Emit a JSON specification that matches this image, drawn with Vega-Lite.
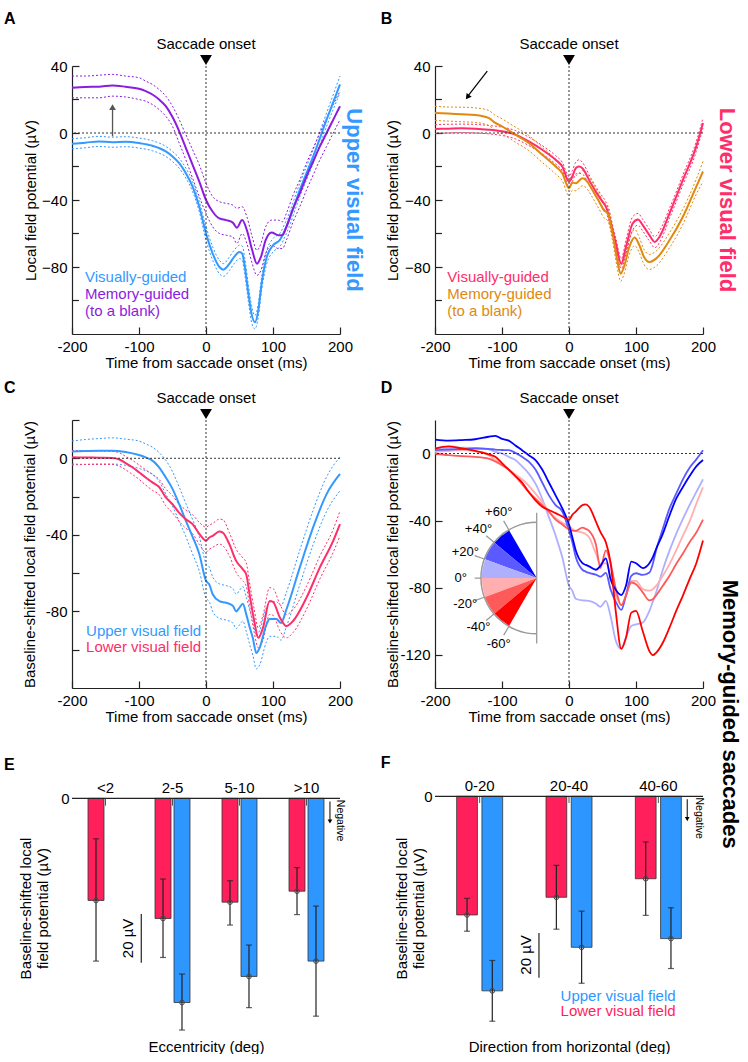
{
  "$schema": "https://vega.github.io/schema/vega-lite/v6.json",
  "padding": {"left": 4, "top": 11, "right": 4, "bottom": 0},
  "bounds": "flush",
  "columns": 2,
  "spacing": {"row": 86, "column": 95},
  "resolve": {"scale": {"color": "independent", "x": "independent", "y": "independent", "xOffset": "independent", "theta": "independent"}},
  "config": {
    "font": "Liberation Sans",
    "view": {"stroke": null},
    "axis": {"grid": false, "labelFontSize": 15, "titleFontSize": 15, "titleFontWeight": "normal", "labelColor": "#000", "titleColor": "#000", "domainColor": "#222", "tickColor": "#222", "domainWidth": 1.2, "tickWidth": 1.2, "labelFont": "Liberation Sans", "titleFont": "Liberation Sans"},
    "text": {"font": "Liberation Sans"}
  },
  "datasets": {
    "a": [
      {"t":-200,"g":"visual","m":-6.4,"lo":-9.4,"hi":-3.4},{"t":-180,"g":"visual","m":-5.8,"lo":-8.8,"hi":-2.8},{"t":-160,"g":"visual","m":-5,"lo":-8,"hi":-2},{"t":-140,"g":"visual","m":-5.5,"lo":-8.5,"hi":-2.5},{"t":-120,"g":"visual","m":-5.2,"lo":-8.2,"hi":-2.2},{"t":-100,"g":"visual","m":-6,"lo":-9,"hi":-3},{"t":-80,"g":"visual","m":-7.6,"lo":-10.6,"hi":-4.6},{"t":-60,"g":"visual","m":-11,"lo":-14,"hi":-8},{"t":-50,"g":"visual","m":-14,"lo":-17,"hi":-11},{"t":-40,"g":"visual","m":-18,"lo":-21,"hi":-15},{"t":-30,"g":"visual","m":-24,"lo":-27,"hi":-21},{"t":-20,"g":"visual","m":-32,"lo":-35,"hi":-29},{"t":-10,"g":"visual","m":-44,"lo":-47,"hi":-41},{"t":0,"g":"visual","m":-60,"lo":-64,"hi":-56},{"t":10,"g":"visual","m":-72,"lo":-76,"hi":-68},{"t":20,"g":"visual","m":-80,"lo":-84,"hi":-76},{"t":26,"g":"visual","m":-81.6,"lo":-85.6,"hi":-78},{"t":35,"g":"visual","m":-78,"lo":-82,"hi":-74},{"t":42,"g":"visual","m":-74,"lo":-78,"hi":-70},{"t":50,"g":"visual","m":-71,"lo":-75,"hi":-67},{"t":54,"g":"visual","m":-72,"lo":-76,"hi":-67.5},{"t":58,"g":"visual","m":-80,"lo":-85,"hi":-75},{"t":63,"g":"visual","m":-95,"lo":-100,"hi":-90},{"t":68,"g":"visual","m":-108,"lo":-113,"hi":-103},{"t":73,"g":"visual","m":-113,"lo":-117,"hi":-109},{"t":78,"g":"visual","m":-106,"lo":-110,"hi":-102},{"t":83,"g":"visual","m":-90,"lo":-94,"hi":-86},{"t":90,"g":"visual","m":-75,"lo":-79,"hi":-71},{"t":100,"g":"visual","m":-67,"lo":-71,"hi":-63},{"t":110,"g":"visual","m":-64,"lo":-68,"hi":-60},{"t":120,"g":"visual","m":-56,"lo":-60,"hi":-52},{"t":140,"g":"visual","m":-34,"lo":-38,"hi":-30},{"t":160,"g":"visual","m":-14,"lo":-18,"hi":-10},{"t":180,"g":"visual","m":8,"lo":4,"hi":12},{"t":200,"g":"visual","m":29,"lo":24,"hi":34},
      {"t":-200,"g":"memory","m":27,"lo":21,"hi":34},{"t":-180,"g":"memory","m":27.5,"lo":21,"hi":34},{"t":-160,"g":"memory","m":27.6,"lo":21,"hi":34.5},{"t":-140,"g":"memory","m":28.4,"lo":22,"hi":35},{"t":-120,"g":"memory","m":27.6,"lo":21.5,"hi":34},{"t":-100,"g":"memory","m":26.4,"lo":20,"hi":33},{"t":-90,"g":"memory","m":25,"lo":19,"hi":31},{"t":-80,"g":"memory","m":23,"lo":17,"hi":29},{"t":-70,"g":"memory","m":20,"lo":14,"hi":26},{"t":-60,"g":"memory","m":16,"lo":10,"hi":22},{"t":-50,"g":"memory","m":9.5,"lo":4,"hi":16},{"t":-40,"g":"memory","m":1,"lo":-6,"hi":8},{"t":-30,"g":"memory","m":-9,"lo":-16,"hi":-1},{"t":-20,"g":"memory","m":-19,"lo":-27,"hi":-10},{"t":-10,"g":"memory","m":-29,"lo":-38,"hi":-19},{"t":0,"g":"memory","m":-40,"lo":-48,"hi":-30},{"t":10,"g":"memory","m":-47,"lo":-56,"hi":-38},{"t":20,"g":"memory","m":-51,"lo":-60,"hi":-41},{"t":30,"g":"memory","m":-52,"lo":-61,"hi":-42},{"t":40,"g":"memory","m":-53.5,"lo":-62,"hi":-43},{"t":46,"g":"memory","m":-56.6,"lo":-66,"hi":-45},{"t":54,"g":"memory","m":-52,"lo":-60,"hi":-44},{"t":61,"g":"memory","m":-58,"lo":-66,"hi":-50},{"t":69,"g":"memory","m":-70,"lo":-78,"hi":-62},{"t":76,"g":"memory","m":-78,"lo":-85,"hi":-70},{"t":82,"g":"memory","m":-74,"lo":-82,"hi":-66},{"t":89,"g":"memory","m":-64,"lo":-72,"hi":-56},{"t":98,"g":"memory","m":-59.4,"lo":-67,"hi":-52},{"t":108,"g":"memory","m":-61,"lo":-69,"hi":-52},{"t":114,"g":"memory","m":-61,"lo":-69,"hi":-53},{"t":120,"g":"memory","m":-56,"lo":-64,"hi":-48},{"t":130,"g":"memory","m":-45,"lo":-53,"hi":-37},{"t":140,"g":"memory","m":-36,"lo":-44,"hi":-28},{"t":150,"g":"memory","m":-26,"lo":-34,"hi":-18},{"t":160,"g":"memory","m":-17,"lo":-25,"hi":-9},{"t":170,"g":"memory","m":-8,"lo":-16,"hi":0},{"t":180,"g":"memory","m":0,"lo":-8,"hi":9},{"t":190,"g":"memory","m":8,"lo":0,"hi":17},{"t":200,"g":"memory","m":16,"lo":8,"hi":25}
    ],
    "b": [
      {"t":-200,"g":"visual","m":2.4,"lo":-0.2,"hi":5},{"t":-180,"g":"visual","m":2.6,"lo":0,"hi":5.2},{"t":-160,"g":"visual","m":2.8,"lo":0.2,"hi":5.3},{"t":-140,"g":"visual","m":2.6,"lo":0,"hi":5.1},{"t":-120,"g":"visual","m":2,"lo":-0.5,"hi":4.5},{"t":-100,"g":"visual","m":1,"lo":-1.5,"hi":3.5},{"t":-80,"g":"visual","m":-1,"lo":-3.5,"hi":1.5},{"t":-60,"g":"visual","m":-5,"lo":-7.5,"hi":-2.5},{"t":-40,"g":"visual","m":-10,"lo":-12.5,"hi":-7.5},{"t":-20,"g":"visual","m":-16,"lo":-18.5,"hi":-13.5},{"t":-10,"g":"visual","m":-20,"lo":-22.5,"hi":-17.5},{"t":0,"g":"visual","m":-29,"lo":-31.5,"hi":-26},{"t":5,"g":"visual","m":-26,"lo":-29,"hi":-22.5},{"t":10,"g":"visual","m":-21,"lo":-24.5,"hi":-17.5},{"t":15,"g":"visual","m":-20,"lo":-24,"hi":-16},{"t":20,"g":"visual","m":-21,"lo":-24.5,"hi":-17.5},{"t":30,"g":"visual","m":-28,"lo":-31,"hi":-25},{"t":40,"g":"visual","m":-35,"lo":-38,"hi":-32},{"t":50,"g":"visual","m":-41,"lo":-44,"hi":-38},{"t":55,"g":"visual","m":-44,"lo":-47,"hi":-41},{"t":60,"g":"visual","m":-50,"lo":-53,"hi":-47},{"t":65,"g":"visual","m":-58,"lo":-61,"hi":-55},{"t":70,"g":"visual","m":-66,"lo":-69,"hi":-63},{"t":78,"g":"visual","m":-78,"lo":-81,"hi":-75},{"t":85,"g":"visual","m":-68,"lo":-72,"hi":-64},{"t":95,"g":"visual","m":-54,"lo":-58,"hi":-50},{"t":103,"g":"visual","m":-51.6,"lo":-55,"hi":-48},{"t":110,"g":"visual","m":-55,"lo":-58.5,"hi":-51.5},{"t":120,"g":"visual","m":-61,"lo":-64.5,"hi":-57.5},{"t":128,"g":"visual","m":-65,"lo":-68.5,"hi":-62},{"t":135,"g":"visual","m":-62,"lo":-65.5,"hi":-58.5},{"t":150,"g":"visual","m":-48,"lo":-51,"hi":-45},{"t":170,"g":"visual","m":-28,"lo":-31,"hi":-25},{"t":190,"g":"visual","m":-8,"lo":-11,"hi":-5},{"t":200,"g":"visual","m":6,"lo":3,"hi":9},
      {"t":-200,"g":"memory","m":12,"lo":7.5,"hi":16},{"t":-180,"g":"memory","m":11.6,"lo":7.1,"hi":15.5},{"t":-160,"g":"memory","m":11.2,"lo":6.7,"hi":15.4},{"t":-140,"g":"memory","m":10.8,"lo":6.3,"hi":15},{"t":-120,"g":"memory","m":9,"lo":4.5,"hi":13.5},{"t":-110,"g":"memory","m":6,"lo":1.5,"hi":10.5},{"t":-100,"g":"memory","m":4,"lo":-0.5,"hi":8.5},{"t":-90,"g":"memory","m":1.6,"lo":-2.9,"hi":6},{"t":-80,"g":"memory","m":-1,"lo":-5.5,"hi":3.5},{"t":-60,"g":"memory","m":-6,"lo":-10.5,"hi":-1.5},{"t":-40,"g":"memory","m":-13,"lo":-17.5,"hi":-8.5},{"t":-20,"g":"memory","m":-20,"lo":-24.5,"hi":-15.5},{"t":-10,"g":"memory","m":-24,"lo":-28.5,"hi":-19.5},{"t":0,"g":"memory","m":-33,"lo":-37.5,"hi":-28},{"t":5,"g":"memory","m":-29.6,"lo":-34.2,"hi":-25},{"t":10,"g":"memory","m":-30,"lo":-34.5,"hi":-25.5},{"t":20,"g":"memory","m":-27,"lo":-31.5,"hi":-22.5},{"t":25,"g":"memory","m":-28,"lo":-32.5,"hi":-23.5},{"t":35,"g":"memory","m":-34,"lo":-38.5,"hi":-29.5},{"t":45,"g":"memory","m":-41,"lo":-45.5,"hi":-36.5},{"t":52,"g":"memory","m":-46,"lo":-50.5,"hi":-41.5},{"t":58,"g":"memory","m":-48,"lo":-52.5,"hi":-43.5},{"t":65,"g":"memory","m":-60,"lo":-64.5,"hi":-55.5},{"t":72,"g":"memory","m":-76,"lo":-80.5,"hi":-71.5},{"t":77,"g":"memory","m":-84,"lo":-88.5,"hi":-79.5},{"t":82,"g":"memory","m":-80,"lo":-84.5,"hi":-75.5},{"t":90,"g":"memory","m":-68,"lo":-72.5,"hi":-63.5},{"t":98,"g":"memory","m":-62.4,"lo":-67.3,"hi":-57.5},{"t":105,"g":"memory","m":-67,"lo":-71.5,"hi":-62.5},{"t":112,"g":"memory","m":-74,"lo":-78.5,"hi":-69.5},{"t":120,"g":"memory","m":-77,"lo":-81.5,"hi":-72.5},{"t":130,"g":"memory","m":-75,"lo":-79.5,"hi":-70.5},{"t":150,"g":"memory","m":-64,"lo":-68.5,"hi":-59.5},{"t":170,"g":"memory","m":-50,"lo":-54.5,"hi":-45.5},{"t":190,"g":"memory","m":-32,"lo":-36.5,"hi":-27.5},{"t":200,"g":"memory","m":-23,"lo":-29,"hi":-17}
    ],
    "c": [
      {"t":-200,"g":"upper","m":3.5,"lo":-3.5,"hi":9},{"t":-180,"g":"upper","m":3.8,"lo":-3.2,"hi":9.8},{"t":-160,"g":"upper","m":4,"lo":-3,"hi":10.3},{"t":-140,"g":"upper","m":4,"lo":-3,"hi":10.7},{"t":-120,"g":"upper","m":3.3,"lo":-3.7,"hi":10},{"t":-100,"g":"upper","m":1.7,"lo":-5.3,"hi":9},{"t":-90,"g":"upper","m":0.5,"lo":-6.5,"hi":7.5},{"t":-80,"g":"upper","m":-1.2,"lo":-8.2,"hi":5.8},{"t":-70,"g":"upper","m":-4.7,"lo":-12,"hi":3},{"t":-60,"g":"upper","m":-10,"lo":-18.7,"hi":-1},{"t":-50,"g":"upper","m":-16,"lo":-25,"hi":-7},{"t":-40,"g":"upper","m":-24,"lo":-33,"hi":-15},{"t":-30,"g":"upper","m":-32.7,"lo":-41,"hi":-23.7},{"t":-20,"g":"upper","m":-41,"lo":-50,"hi":-32},{"t":-10,"g":"upper","m":-50,"lo":-59,"hi":-41},{"t":0,"g":"upper","m":-64,"lo":-73,"hi":-55},{"t":5,"g":"upper","m":-66,"lo":-75,"hi":-57},{"t":10,"g":"upper","m":-71,"lo":-80,"hi":-62},{"t":20,"g":"upper","m":-74.6,"lo":-83.6,"hi":-65.6},{"t":30,"g":"upper","m":-75.5,"lo":-84.5,"hi":-66.5},{"t":40,"g":"upper","m":-77,"lo":-86,"hi":-68},{"t":45,"g":"upper","m":-80,"lo":-89,"hi":-71},{"t":50,"g":"upper","m":-78,"lo":-87,"hi":-69},{"t":55,"g":"upper","m":-76,"lo":-85,"hi":-67},{"t":60,"g":"upper","m":-81.4,"lo":-90.4,"hi":-72.4},{"t":65,"g":"upper","m":-88,"lo":-97,"hi":-79},{"t":70,"g":"upper","m":-94,"lo":-103,"hi":-85},{"t":75,"g":"upper","m":-101.7,"lo":-110,"hi":-92.7},{"t":80,"g":"upper","m":-99,"lo":-108,"hi":-90},{"t":90,"g":"upper","m":-87,"lo":-96,"hi":-78},{"t":95,"g":"upper","m":-84,"lo":-93,"hi":-75},{"t":105,"g":"upper","m":-84,"lo":-93,"hi":-75},{"t":112,"g":"upper","m":-86,"lo":-95,"hi":-77},{"t":120,"g":"upper","m":-79,"lo":-88,"hi":-70},{"t":140,"g":"upper","m":-57,"lo":-66,"hi":-48},{"t":160,"g":"upper","m":-36,"lo":-45,"hi":-27},{"t":180,"g":"upper","m":-18.7,"lo":-27.7,"hi":-9.7},{"t":200,"g":"upper","m":-8.2,"lo":-17,"hi":0.8},
      {"t":-200,"g":"lower","m":0.5,"lo":-3,"hi":4},{"t":-180,"g":"lower","m":0.4,"lo":-3.2,"hi":4},{"t":-160,"g":"lower","m":0.3,"lo":-3.2,"hi":3.8},{"t":-140,"g":"lower","m":0.2,"lo":-3.2,"hi":3.6},{"t":-130,"g":"lower","m":-0.5,"lo":-4,"hi":3},{"t":-120,"g":"lower","m":-2.5,"lo":-6,"hi":1},{"t":-110,"g":"lower","m":-4.7,"lo":-8.4,"hi":-1},{"t":-100,"g":"lower","m":-7.3,"lo":-11,"hi":-3.5},{"t":-90,"g":"lower","m":-10,"lo":-14,"hi":-6},{"t":-80,"g":"lower","m":-12.6,"lo":-16.7,"hi":-8.5},{"t":-70,"g":"lower","m":-15,"lo":-19,"hi":-11},{"t":-60,"g":"lower","m":-20.4,"lo":-24.8,"hi":-16},{"t":-50,"g":"lower","m":-24,"lo":-28.5,"hi":-19.5},{"t":-40,"g":"lower","m":-28.5,"lo":-33,"hi":-24},{"t":-30,"g":"lower","m":-31.8,"lo":-36.6,"hi":-27},{"t":-20,"g":"lower","m":-34.4,"lo":-39.3,"hi":-29.5},{"t":-10,"g":"lower","m":-39.5,"lo":-45,"hi":-33.5},{"t":0,"g":"lower","m":-43,"lo":-49,"hi":-36},{"t":5,"g":"lower","m":-41.4,"lo":-47.5,"hi":-35},{"t":10,"g":"lower","m":-40.5,"lo":-46.5,"hi":-34},{"t":20,"g":"lower","m":-38.3,"lo":-44.8,"hi":-31.8},{"t":25,"g":"lower","m":-38.8,"lo":-45.6,"hi":-32},{"t":35,"g":"lower","m":-45,"lo":-51,"hi":-39},{"t":45,"g":"lower","m":-53.6,"lo":-59.7,"hi":-47.5},{"t":55,"g":"lower","m":-58,"lo":-64,"hi":-52},{"t":60,"g":"lower","m":-60.6,"lo":-66.7,"hi":-54.5},{"t":65,"g":"lower","m":-71,"lo":-77,"hi":-65},{"t":72,"g":"lower","m":-85,"lo":-91,"hi":-79},{"t":78,"g":"lower","m":-93.8,"lo":-99,"hi":-88.6},{"t":85,"g":"lower","m":-88.6,"lo":-95,"hi":-82},{"t":95,"g":"lower","m":-74.6,"lo":-81.6,"hi":-67.6},{"t":100,"g":"lower","m":-75,"lo":-82,"hi":-68},{"t":110,"g":"lower","m":-83,"lo":-90,"hi":-76},{"t":120,"g":"lower","m":-87.7,"lo":-93.8,"hi":-81.6},{"t":130,"g":"lower","m":-85,"lo":-91,"hi":-79},{"t":150,"g":"lower","m":-72.8,"lo":-78.8,"hi":-66.8},{"t":170,"g":"lower","m":-57,"lo":-63,"hi":-51},{"t":190,"g":"lower","m":-43,"lo":-49,"hi":-37},{"t":200,"g":"lower","m":-34.4,"lo":-40.5,"hi":-27.4}
    ],
    "d": [
      {"t":-200,"s":"U20","v":2.9},{"t":-180,"s":"U20","v":3.2},{"t":-160,"s":"U20","v":3.5},{"t":-140,"s":"U20","v":3.3},{"t":-120,"s":"U20","v":2.5},{"t":-110,"s":"U20","v":1},{"t":-100,"s":"U20","v":0},{"t":-90,"s":"U20","v":-2},{"t":-80,"s":"U20","v":-3.9},{"t":-70,"s":"U20","v":-7.7},{"t":-60,"s":"U20","v":-12},{"t":-50,"s":"U20","v":-18},{"t":-40,"s":"U20","v":-27},{"t":-30,"s":"U20","v":-38},{"t":-20,"s":"U20","v":-49},{"t":-10,"s":"U20","v":-62},{"t":0,"s":"U20","v":-79},{"t":5,"s":"U20","v":-82},{"t":10,"s":"U20","v":-86.7},{"t":20,"s":"U20","v":-87.7},{"t":25,"s":"U20","v":-87.8},{"t":30,"s":"U20","v":-88},{"t":40,"s":"U20","v":-89.6},{"t":47,"s":"U20","v":-91.5},{"t":55,"s":"U20","v":-88},{"t":62,"s":"U20","v":-97},{"t":70,"s":"U20","v":-112},{"t":78,"s":"U20","v":-116.6},{"t":85,"s":"U20","v":-110},{"t":93,"s":"U20","v":-103},{"t":100,"s":"U20","v":-102},{"t":110,"s":"U20","v":-101},{"t":120,"s":"U20","v":-94},{"t":125,"s":"U20","v":-88.6},{"t":130,"s":"U20","v":-83},{"t":140,"s":"U20","v":-69.4},{"t":150,"s":"U20","v":-58},{"t":160,"s":"U20","v":-48},{"t":170,"s":"U20","v":-39},{"t":180,"s":"U20","v":-30.8},{"t":190,"s":"U20","v":-23},{"t":200,"s":"U20","v":-15.4},
      {"t":-200,"s":"L20","v":1},{"t":-180,"s":"L20","v":1.5},{"t":-160,"s":"L20","v":2},{"t":-140,"s":"L20","v":1.5},{"t":-120,"s":"L20","v":-1},{"t":-110,"s":"L20","v":-3.9},{"t":-100,"s":"L20","v":-6.5},{"t":-90,"s":"L20","v":-9.6},{"t":-80,"s":"L20","v":-12.5},{"t":-70,"s":"L20","v":-15.4},{"t":-60,"s":"L20","v":-19.3},{"t":-50,"s":"L20","v":-24},{"t":-40,"s":"L20","v":-28.9},{"t":-30,"s":"L20","v":-34.7},{"t":-20,"s":"L20","v":-38.5},{"t":-10,"s":"L20","v":-41.4},{"t":0,"s":"L20","v":-43.4},{"t":5,"s":"L20","v":-45},{"t":10,"s":"L20","v":-46.2},{"t":20,"s":"L20","v":-47.2},{"t":25,"s":"L20","v":-48},{"t":30,"s":"L20","v":-50},{"t":40,"s":"L20","v":-59.7},{"t":47,"s":"L20","v":-66},{"t":55,"s":"L20","v":-65.5},{"t":62,"s":"L20","v":-73},{"t":70,"s":"L20","v":-84.8},{"t":78,"s":"L20","v":-90.6},{"t":85,"s":"L20","v":-84.8},{"t":93,"s":"L20","v":-76},{"t":100,"s":"L20","v":-76},{"t":110,"s":"L20","v":-81},{"t":120,"s":"L20","v":-81.9},{"t":125,"s":"L20","v":-81},{"t":130,"s":"L20","v":-79},{"t":140,"s":"L20","v":-73},{"t":150,"s":"L20","v":-66},{"t":160,"s":"L20","v":-57.8},{"t":170,"s":"L20","v":-49},{"t":180,"s":"L20","v":-40.5},{"t":190,"s":"L20","v":-30},{"t":200,"s":"L20","v":-20.2},
      {"t":-200,"s":"U40","v":2},{"t":-180,"s":"U40","v":2.3},{"t":-160,"s":"U40","v":2.6},{"t":-140,"s":"U40","v":3},{"t":-120,"s":"U40","v":2.8},{"t":-110,"s":"U40","v":2.3},{"t":-100,"s":"U40","v":2.1},{"t":-90,"s":"U40","v":2},{"t":-80,"s":"U40","v":0.4},{"t":-70,"s":"U40","v":-2},{"t":-60,"s":"U40","v":-4.8},{"t":-50,"s":"U40","v":-9.6},{"t":-40,"s":"U40","v":-17.3},{"t":-30,"s":"U40","v":-25},{"t":-20,"s":"U40","v":-30.8},{"t":-10,"s":"U40","v":-34.7},{"t":0,"s":"U40","v":-46},{"t":5,"s":"U40","v":-53},{"t":10,"s":"U40","v":-61.7},{"t":20,"s":"U40","v":-69.4},{"t":25,"s":"U40","v":-70.5},{"t":30,"s":"U40","v":-71.3},{"t":40,"s":"U40","v":-72.3},{"t":47,"s":"U40","v":-73.5},{"t":55,"s":"U40","v":-71.3},{"t":62,"s":"U40","v":-81},{"t":70,"s":"U40","v":-88.7},{"t":78,"s":"U40","v":-93.4},{"t":85,"s":"U40","v":-84.8},{"t":93,"s":"U40","v":-73},{"t":100,"s":"U40","v":-71.5},{"t":110,"s":"U40","v":-72.5},{"t":120,"s":"U40","v":-71},{"t":125,"s":"U40","v":-66},{"t":130,"s":"U40","v":-57.8},{"t":140,"s":"U40","v":-45},{"t":150,"s":"U40","v":-32.8},{"t":160,"s":"U40","v":-24},{"t":170,"s":"U40","v":-15.4},{"t":180,"s":"U40","v":-8.5},{"t":190,"s":"U40","v":-3.5},{"t":200,"s":"U40","v":2},
      {"t":-200,"s":"L40","v":0},{"t":-180,"s":"L40","v":-1},{"t":-160,"s":"L40","v":-1.6},{"t":-140,"s":"L40","v":-2},{"t":-120,"s":"L40","v":-3},{"t":-110,"s":"L40","v":-4.8},{"t":-100,"s":"L40","v":-7},{"t":-90,"s":"L40","v":-9.6},{"t":-80,"s":"L40","v":-13.5},{"t":-70,"s":"L40","v":-18.3},{"t":-60,"s":"L40","v":-23},{"t":-50,"s":"L40","v":-27},{"t":-40,"s":"L40","v":-30.8},{"t":-30,"s":"L40","v":-34.7},{"t":-20,"s":"L40","v":-39.5},{"t":-10,"s":"L40","v":-42.4},{"t":0,"s":"L40","v":-45.3},{"t":5,"s":"L40","v":-46},{"t":10,"s":"L40","v":-46.2},{"t":20,"s":"L40","v":-44.3},{"t":25,"s":"L40","v":-45},{"t":30,"s":"L40","v":-46.2},{"t":40,"s":"L40","v":-54},{"t":47,"s":"L40","v":-68.4},{"t":55,"s":"L40","v":-57.8},{"t":62,"s":"L40","v":-65.5},{"t":70,"s":"L40","v":-81},{"t":78,"s":"L40","v":-90.6},{"t":85,"s":"L40","v":-84.8},{"t":93,"s":"L40","v":-77},{"t":100,"s":"L40","v":-78},{"t":110,"s":"L40","v":-82.9},{"t":120,"s":"L40","v":-87.7},{"t":125,"s":"L40","v":-87},{"t":130,"s":"L40","v":-84.8},{"t":140,"s":"L40","v":-79},{"t":150,"s":"L40","v":-73},{"t":160,"s":"L40","v":-66},{"t":170,"s":"L40","v":-59.7},{"t":180,"s":"L40","v":-53},{"t":190,"s":"L40","v":-47.2},{"t":200,"s":"L40","v":-39.5},
      {"t":-200,"s":"U60","v":8.3},{"t":-180,"s":"U60","v":7.7},{"t":-160,"s":"U60","v":8},{"t":-140,"s":"U60","v":8.5},{"t":-120,"s":"U60","v":10},{"t":-110,"s":"U60","v":10.5},{"t":-100,"s":"U60","v":8.7},{"t":-90,"s":"U60","v":7.7},{"t":-80,"s":"U60","v":4.8},{"t":-70,"s":"U60","v":2},{"t":-60,"s":"U60","v":-1},{"t":-50,"s":"U60","v":-3.9},{"t":-40,"s":"U60","v":-9.6},{"t":-30,"s":"U60","v":-17.3},{"t":-20,"s":"U60","v":-25},{"t":-10,"s":"U60","v":-32.8},{"t":0,"s":"U60","v":-42.4},{"t":5,"s":"U60","v":-50},{"t":10,"s":"U60","v":-57.8},{"t":20,"s":"U60","v":-65.5},{"t":25,"s":"U60","v":-66.5},{"t":30,"s":"U60","v":-67.4},{"t":40,"s":"U60","v":-69.4},{"t":47,"s":"U60","v":-67},{"t":55,"s":"U60","v":-62.6},{"t":62,"s":"U60","v":-75},{"t":70,"s":"U60","v":-81.5},{"t":78,"s":"U60","v":-84.5},{"t":85,"s":"U60","v":-79},{"t":93,"s":"U60","v":-64.5},{"t":100,"s":"U60","v":-65.5},{"t":110,"s":"U60","v":-68.4},{"t":120,"s":"U60","v":-65.5},{"t":125,"s":"U60","v":-62},{"t":130,"s":"U60","v":-57},{"t":140,"s":"U60","v":-48},{"t":150,"s":"U60","v":-37},{"t":160,"s":"U60","v":-27},{"t":170,"s":"U60","v":-20},{"t":180,"s":"U60","v":-13.5},{"t":190,"s":"U60","v":-7.7},{"t":200,"s":"U60","v":-3.9},
      {"t":-200,"s":"L60","v":2.9},{"t":-180,"s":"L60","v":4.2},{"t":-160,"s":"L60","v":3},{"t":-140,"s":"L60","v":1.5},{"t":-120,"s":"L60","v":-0.5},{"t":-110,"s":"L60","v":-2},{"t":-100,"s":"L60","v":-5.8},{"t":-90,"s":"L60","v":-9.6},{"t":-80,"s":"L60","v":-13.5},{"t":-70,"s":"L60","v":-17.3},{"t":-60,"s":"L60","v":-23},{"t":-50,"s":"L60","v":-28},{"t":-40,"s":"L60","v":-31.8},{"t":-30,"s":"L60","v":-33.7},{"t":-20,"s":"L60","v":-35.6},{"t":-10,"s":"L60","v":-37.6},{"t":0,"s":"L60","v":-39.5},{"t":5,"s":"L60","v":-36.6},{"t":10,"s":"L60","v":-34.7},{"t":20,"s":"L60","v":-30.8},{"t":25,"s":"L60","v":-30.4},{"t":30,"s":"L60","v":-31.8},{"t":40,"s":"L60","v":-40.5},{"t":47,"s":"L60","v":-47},{"t":55,"s":"L60","v":-53},{"t":62,"s":"L60","v":-65},{"t":70,"s":"L60","v":-95},{"t":78,"s":"L60","v":-116.6},{"t":85,"s":"L60","v":-110},{"t":93,"s":"L60","v":-95},{"t":100,"s":"L60","v":-94},{"t":110,"s":"L60","v":-106},{"t":120,"s":"L60","v":-118},{"t":125,"s":"L60","v":-120.4},{"t":130,"s":"L60","v":-119},{"t":140,"s":"L60","v":-113},{"t":150,"s":"L60","v":-104},{"t":160,"s":"L60","v":-94},{"t":170,"s":"L60","v":-84.8},{"t":180,"s":"L60","v":-75},{"t":190,"s":"L60","v":-65.5},{"t":200,"s":"L60","v":-52}
    ],
    "wedges": [
      {"s":"U60","a0":40,"a1":60},{"s":"U40","a0":20,"a1":40},{"s":"U20","a0":0,"a1":20},
      {"s":"L20","a0":-20,"a1":0},{"s":"L40","a0":-40,"a1":-20},{"s":"L60","a0":-60,"a1":-40}
    ],
    "angles": [
      {"a":60,"lab":"+60°"},{"a":40,"lab":"+40°"},{"a":20,"lab":"+20°"},{"a":0,"lab":"0°"},
      {"a":-20,"lab":"-20°"},{"a":-40,"lab":"-40°"},{"a":-60,"lab":"-60°"}
    ],
    "e": [
      {"cat":"<2","f":"lower","m":-41.9,"lo":-66.8,"hi":-16.6},
      {"cat":"2-5","f":"lower","m":-49.3,"lo":-65.3,"hi":-33.1},
      {"cat":"2-5","f":"upper","m":-83.8,"lo":-95.1,"hi":-72.1},
      {"cat":"5-10","f":"lower","m":-42.6,"lo":-52.0,"hi":-33.8},
      {"cat":"5-10","f":"upper","m":-73.1,"lo":-85.9,"hi":-60.2},
      {"cat":">10","f":"lower","m":-38.1,"lo":-47.7,"hi":-28.4},
      {"cat":">10","f":"upper","m":-66.8,"lo":-89.4,"hi":-44.2}
    ],
    "f": [
      {"cat":"0-20","f":"lower","m":-53.1,"lo":-60.4,"hi":-45.7},
      {"cat":"0-20","f":"upper","m":-87.1,"lo":-100.7,"hi":-73.5},
      {"cat":"20-40","f":"lower","m":-45.2,"lo":-59.5,"hi":-30.9},
      {"cat":"20-40","f":"upper","m":-67.6,"lo":-83.7,"hi":-51.4},
      {"cat":"40-60","f":"lower","m":-36.9,"lo":-53.3,"hi":-20.4},
      {"cat":"40-60","f":"upper","m":-63.7,"lo":-77.1,"hi":-49.9}
    ]
  },
  "concat": [
    {
      "width": 268, "height": 268,
      "layer": [
        {"data": {"name": "a"}, "mark": {"type": "line", "interpolate": "monotone", "strokeWidth": 1, "strokeDash": [2, 2]},
         "encoding": {
           "x": {"field": "t", "type": "quantitative", "scale": {"domain": [-200, 200]},
                 "axis": {"title": "Time from saccade onset (ms)", "values": [-200,-150,-100,-50,0,50,100,150,200], "labelExpr": "datum.value % 100 === 0 ? '' + datum.value : ''", "tickSize": -7, "labelPadding": 12, "titlePadding": 1, "labelFlush": false, "labelOverlap": false}},
           "y": {"field": "hi", "type": "quantitative", "scale": {"domain": [-120, 40]},
                 "axis": {"title": "Local field potential (µV)", "values": [40, 0, -40, -80], "format": "d", "tickSize": -7, "labelPadding": 12, "titleX": -42, "titleBaseline": "middle", "labelOverlap": false, "labelFlush": false}},
           "color": {"field": "g", "type": "nominal", "scale": {"domain": ["visual", "memory"], "range": ["#3399FF", "#8C1BE0"]}, "legend": null}}},
        {"data": {"name": "a"}, "mark": {"type": "line", "interpolate": "monotone", "strokeWidth": 1, "strokeDash": [2, 2]},
         "encoding": {"x": {"field": "t", "type": "quantitative"}, "y": {"field": "lo", "type": "quantitative"}, "color": {"field": "g", "type": "nominal", "legend": null}}},
        {"data": {"name": "a"}, "mark": {"type": "line", "interpolate": "monotone", "strokeWidth": 2},
         "encoding": {"x": {"field": "t", "type": "quantitative"}, "y": {"field": "m", "type": "quantitative"}, "color": {"field": "g", "type": "nominal", "legend": null}}},
        {"data": {"values": [{}]}, "mark": {"type": "rule", "color": "#222", "strokeWidth": 1.2}, "encoding": {"x": {"datum": -200}, "x2": {"datum": -189.6}, "y": {"datum": 20}}},
        {"data": {"values": [{}]}, "mark": {"type": "rule", "color": "#222", "strokeWidth": 1.2}, "encoding": {"x": {"datum": -200}, "x2": {"datum": -189.6}, "y": {"datum": -20}}},
        {"data": {"values": [{}]}, "mark": {"type": "rule", "color": "#222", "strokeWidth": 1.2}, "encoding": {"x": {"datum": -200}, "x2": {"datum": -189.6}, "y": {"datum": -60}}},
        {"data": {"values": [{}]}, "mark": {"type": "rule", "color": "#222", "strokeWidth": 1.2}, "encoding": {"x": {"datum": -200}, "x2": {"datum": -189.6}, "y": {"datum": -100}}},
        {"data": {"values": [{}]}, "mark": {"type": "rule", "color": "#333", "strokeDash": [2, 2], "strokeWidth": 1}, "encoding": {"y": {"datum": 0}}},
        {"data": {"values": [{}]}, "mark": {"type": "rule", "color": "#333", "strokeDash": [2, 2], "strokeWidth": 1}, "encoding": {"x": {"datum": 0}}},
        {"data": {"values": [{}]}, "mark": {"type": "point", "shape": "triangle-down", "filled": true, "color": "#000", "opacity": 1, "size": 140, "yOffset": -6}, "encoding": {"x": {"datum": 0}, "y": {"datum": 40}}},
        {"data": {"values": [{}]}, "mark": {"type": "text", "text": "Saccade onset", "fontSize": 15, "baseline": "middle", "yOffset": -22}, "encoding": {"x": {"datum": 0}, "y": {"datum": 40}}},
        {"data": {"values": [{}]}, "mark": {"type": "rule", "color": "#555", "strokeWidth": 1.3}, "encoding": {"x": {"datum": -139.5}, "y": {"datum": -2}, "y2": {"datum": 14}}},
        {"data": {"values": [{}]}, "mark": {"type": "point", "shape": "triangle-up", "filled": true, "color": "#555", "opacity": 1, "size": 45}, "encoding": {"x": {"datum": -139.5}, "y": {"datum": 15.5}}},
        {"data": {"values": [{}]}, "mark": {"type": "text", "text": "Visually-guided", "fontSize": 15, "align": "left", "baseline": "middle", "color": "#3399FF"}, "encoding": {"x": {"datum": -180.6}, "y": {"datum": -86}}},
        {"data": {"values": [{}]}, "mark": {"type": "text", "text": "Memory-guided", "fontSize": 15, "align": "left", "baseline": "middle", "color": "#8C1BE0"}, "encoding": {"x": {"datum": -180.6}, "y": {"datum": -96}}},
        {"data": {"values": [{}]}, "mark": {"type": "text", "text": "(to a blank)", "fontSize": 15, "align": "left", "baseline": "middle", "color": "#8C1BE0"}, "encoding": {"x": {"datum": -180.6}, "y": {"datum": -106.4}}},
        {"data": {"values": [{}]}, "mark": {"type": "text", "text": "Upper visual field", "fontSize": 22, "fontWeight": "bold", "angle": 90, "align": "center", "baseline": "middle", "color": "#3399FF", "xOffset": 14}, "encoding": {"x": {"datum": 200}, "y": {"datum": -40}}},
        {"data": {"values": [{}]}, "mark": {"type": "text", "text": "A", "fontSize": 16, "fontWeight": "bold", "align": "left", "baseline": "alphabetic", "xOffset": -68, "yOffset": -42}, "encoding": {"x": {"datum": -200}, "y": {"datum": 40}}}
      ]
    },
    {
      "width": 268, "height": 268,
      "layer": [
        {"data": {"name": "b"}, "mark": {"type": "line", "interpolate": "monotone", "strokeWidth": 1, "strokeDash": [2, 2]},
         "encoding": {
           "x": {"field": "t", "type": "quantitative", "scale": {"domain": [-200, 200]},
                 "axis": {"title": "Time from saccade onset (ms)", "values": [-200,-150,-100,-50,0,50,100,150,200], "labelExpr": "datum.value % 100 === 0 ? '' + datum.value : ''", "tickSize": -7, "labelPadding": 12, "titlePadding": 1, "labelFlush": false, "labelOverlap": false}},
           "y": {"field": "hi", "type": "quantitative", "scale": {"domain": [-120, 40]},
                 "axis": {"title": "Local field potential (µV)", "values": [40, 0, -40, -80], "format": "d", "tickSize": -7, "labelPadding": 12, "titleX": -43, "titleBaseline": "middle", "labelOverlap": false, "labelFlush": false}},
           "color": {"field": "g", "type": "nominal", "scale": {"domain": ["visual", "memory"], "range": ["#FF2D6A", "#E0890E"]}, "legend": null}}},
        {"data": {"name": "b"}, "mark": {"type": "line", "interpolate": "monotone", "strokeWidth": 1, "strokeDash": [2, 2]},
         "encoding": {"x": {"field": "t", "type": "quantitative"}, "y": {"field": "lo", "type": "quantitative"}, "color": {"field": "g", "type": "nominal", "legend": null}}},
        {"data": {"name": "b"}, "mark": {"type": "line", "interpolate": "monotone", "strokeWidth": 2},
         "encoding": {"x": {"field": "t", "type": "quantitative"}, "y": {"field": "m", "type": "quantitative"}, "color": {"field": "g", "type": "nominal", "legend": null}}},
        {"data": {"values": [{}]}, "mark": {"type": "rule", "color": "#222", "strokeWidth": 1.2}, "encoding": {"x": {"datum": -200}, "x2": {"datum": -189.6}, "y": {"datum": 20}}},
        {"data": {"values": [{}]}, "mark": {"type": "rule", "color": "#222", "strokeWidth": 1.2}, "encoding": {"x": {"datum": -200}, "x2": {"datum": -189.6}, "y": {"datum": -20}}},
        {"data": {"values": [{}]}, "mark": {"type": "rule", "color": "#222", "strokeWidth": 1.2}, "encoding": {"x": {"datum": -200}, "x2": {"datum": -189.6}, "y": {"datum": -60}}},
        {"data": {"values": [{}]}, "mark": {"type": "rule", "color": "#222", "strokeWidth": 1.2}, "encoding": {"x": {"datum": -200}, "x2": {"datum": -189.6}, "y": {"datum": -100}}},
        {"data": {"values": [{}]}, "mark": {"type": "rule", "color": "#333", "strokeDash": [2, 2], "strokeWidth": 1}, "encoding": {"y": {"datum": 0}}},
        {"data": {"values": [{}]}, "mark": {"type": "rule", "color": "#333", "strokeDash": [2, 2], "strokeWidth": 1}, "encoding": {"x": {"datum": 0}}},
        {"data": {"values": [{}]}, "mark": {"type": "point", "shape": "triangle-down", "filled": true, "color": "#000", "opacity": 1, "size": 140, "yOffset": -6}, "encoding": {"x": {"datum": 0}, "y": {"datum": 40}}},
        {"data": {"values": [{}]}, "mark": {"type": "text", "text": "Saccade onset", "fontSize": 15, "baseline": "middle", "yOffset": -22}, "encoding": {"x": {"datum": 0}, "y": {"datum": 40}}},
        {"data": {"values": [{}]}, "mark": {"type": "rule", "color": "#000", "strokeWidth": 1.2}, "encoding": {"x": {"datum": -122}, "y": {"datum": 37}, "x2": {"datum": -151}, "y2": {"datum": 22}}},
        {"data": {"values": [{}]}, "mark": {"type": "point", "shape": "triangle-up", "filled": true, "color": "#000", "opacity": 1, "size": 40, "angle": 217}, "encoding": {"x": {"datum": -151.5}, "y": {"datum": 21.5}}},
        {"data": {"values": [{}]}, "mark": {"type": "text", "text": "Visually-guided", "fontSize": 15, "align": "left", "baseline": "middle", "color": "#FF2D6A"}, "encoding": {"x": {"datum": -181.6}, "y": {"datum": -86}}},
        {"data": {"values": [{}]}, "mark": {"type": "text", "text": "Memory-guided", "fontSize": 15, "align": "left", "baseline": "middle", "color": "#E0890E"}, "encoding": {"x": {"datum": -181.6}, "y": {"datum": -96}}},
        {"data": {"values": [{}]}, "mark": {"type": "text", "text": "(to a blank)", "fontSize": 15, "align": "left", "baseline": "middle", "color": "#E0890E"}, "encoding": {"x": {"datum": -181.6}, "y": {"datum": -106.4}}},
        {"data": {"values": [{}]}, "mark": {"type": "text", "text": "Lower visual field", "fontSize": 22, "fontWeight": "bold", "angle": 90, "align": "center", "baseline": "middle", "color": "#FF2D6A", "xOffset": 24}, "encoding": {"x": {"datum": 200}, "y": {"datum": -40}}},
        {"data": {"values": [{}]}, "mark": {"type": "text", "text": "B", "fontSize": 16, "fontWeight": "bold", "align": "left", "baseline": "alphabetic", "xOffset": -54.3, "yOffset": -42}, "encoding": {"x": {"datum": -200}, "y": {"datum": 40}}}
      ]
    },
    {
      "width": 268, "height": 268,
      "layer": [
        {"data": {"name": "c"}, "mark": {"type": "line", "interpolate": "monotone", "strokeWidth": 1, "strokeDash": [2, 2]},
         "encoding": {
           "x": {"field": "t", "type": "quantitative", "scale": {"domain": [-200, 200]},
                 "axis": {"title": "Time from saccade onset (ms)", "values": [-200,-150,-100,-50,0,50,100,150,200], "labelExpr": "datum.value % 100 === 0 ? '' + datum.value : ''", "tickSize": -7, "labelPadding": 12, "titlePadding": 1, "labelFlush": false, "labelOverlap": false}},
           "y": {"field": "hi", "type": "quantitative", "scale": {"domain": [-120, 20]},
                 "axis": {"title": "Baseline-shifted local field potential (µV)", "values": [20,0,-20,-40,-60,-80,-100], "labelExpr": "round(datum.value) % 40 === 0 ? '' + round(datum.value) : ''", "tickSize": -7, "labelPadding": 12, "titleX": -43, "titleBaseline": "middle", "labelOverlap": false, "labelFlush": false}},
           "color": {"field": "g", "type": "nominal", "scale": {"domain": ["upper", "lower"], "range": ["#3399FF", "#FF2D6A"]}, "legend": null}}},
        {"data": {"name": "c"}, "mark": {"type": "line", "interpolate": "monotone", "strokeWidth": 1, "strokeDash": [2, 2]},
         "encoding": {"x": {"field": "t", "type": "quantitative"}, "y": {"field": "lo", "type": "quantitative"}, "color": {"field": "g", "type": "nominal", "legend": null}}},
        {"data": {"name": "c"}, "mark": {"type": "line", "interpolate": "monotone", "strokeWidth": 2},
         "encoding": {"x": {"field": "t", "type": "quantitative"}, "y": {"field": "m", "type": "quantitative"}, "color": {"field": "g", "type": "nominal", "legend": null}}},
        {"data": {"values": [{}]}, "mark": {"type": "rule", "color": "#333", "strokeDash": [2, 2], "strokeWidth": 1}, "encoding": {"y": {"datum": 0}}},
        {"data": {"values": [{}]}, "mark": {"type": "rule", "color": "#333", "strokeDash": [2, 2], "strokeWidth": 1}, "encoding": {"x": {"datum": 0}}},
        {"data": {"values": [{}]}, "mark": {"type": "point", "shape": "triangle-down", "filled": true, "color": "#000", "opacity": 1, "size": 140, "yOffset": -6}, "encoding": {"x": {"datum": 0}, "y": {"datum": 20}}},
        {"data": {"values": [{}]}, "mark": {"type": "text", "text": "Saccade onset", "fontSize": 15, "baseline": "middle", "yOffset": -22}, "encoding": {"x": {"datum": 0}, "y": {"datum": 20}}},
        {"data": {"values": [{}]}, "mark": {"type": "text", "text": "Upper visual field", "fontSize": 15, "align": "left", "baseline": "middle", "color": "#3399FF"}, "encoding": {"x": {"datum": -179}, "y": {"datum": -90.2}}},
        {"data": {"values": [{}]}, "mark": {"type": "text", "text": "Lower visual field", "fontSize": 15, "align": "left", "baseline": "middle", "color": "#FF2D6A"}, "encoding": {"x": {"datum": -179}, "y": {"datum": -98.8}}},
        {"data": {"values": [{}]}, "mark": {"type": "text", "text": "C", "fontSize": 16, "fontWeight": "bold", "align": "left", "baseline": "alphabetic", "xOffset": -68, "yOffset": -26.7}, "encoding": {"x": {"datum": -200}, "y": {"datum": 20}}}
      ]
    },
    {
      "width": 268, "height": 268,
      "layer": [
        {"data": {"name": "d"}, "mark": {"type": "line", "interpolate": "monotone", "strokeWidth": 1.8},
         "encoding": {
           "x": {"field": "t", "type": "quantitative", "scale": {"domain": [-200, 200]},
                 "axis": {"title": "Time from saccade onset (ms)", "values": [-200,-150,-100,-50,0,50,100,150,200], "labelExpr": "datum.value % 100 === 0 ? '' + datum.value : ''", "tickSize": -7, "labelPadding": 12, "titlePadding": 1, "labelFlush": false, "labelOverlap": false}},
           "y": {"field": "v", "type": "quantitative", "scale": {"domain": [-135, 20]},
                 "axis": {"title": "Baseline-shifted local field potential (µV)", "values": [20,0,-20,-40,-60,-80,-100,-120], "labelExpr": "round(datum.value) % 40 === 0 ? '' + round(datum.value) : ''", "tickSize": -7, "labelPadding": 12, "titleX": -43, "titleBaseline": "middle", "labelOverlap": false, "labelFlush": false}},
           "color": {"field": "s", "type": "nominal", "scale": {"domain": ["U60", "U40", "U20", "L20", "L40", "L60"], "range": ["#0000FF", "#5A5AFF", "#AFAFFF", "#FFAFAF", "#FF5A5A", "#FF0000"]}, "legend": null}}},
        {"data": {"values": [{}]}, "mark": {"type": "rule", "color": "#333", "strokeDash": [2, 2], "strokeWidth": 1}, "encoding": {"y": {"datum": 0}}},
        {"data": {"values": [{}]}, "mark": {"type": "rule", "color": "#333", "strokeDash": [2, 2], "strokeWidth": 1}, "encoding": {"x": {"datum": 0}}},
        {"data": {"values": [{}]}, "mark": {"type": "point", "shape": "triangle-down", "filled": true, "color": "#000", "opacity": 1, "size": 140, "yOffset": -6}, "encoding": {"x": {"datum": 0}, "y": {"datum": 20}}},
        {"data": {"values": [{}]}, "mark": {"type": "text", "text": "Saccade onset", "fontSize": 15, "baseline": "middle", "yOffset": -22}, "encoding": {"x": {"datum": 0}, "y": {"datum": 20}}},
        {"data": {"values": [{}]}, "mark": {"type": "arc", "innerRadius": 55, "outerRadius": 56.5, "color": "#999"},
         "encoding": {"x": {"datum": -48.2}, "y": {"datum": -74.4}, "theta": {"datum": -90, "type": "quantitative", "stack": null, "scale": {"domain": [-90, 90], "range": [3.14159, 6.28319]}}, "theta2": {"datum": 90}}},
        {"data": {"name": "wedges"}, "mark": {"type": "arc", "innerRadius": 0, "outerRadius": 55},
         "encoding": {"x": {"datum": -48.2}, "y": {"datum": -74.4}, "theta": {"field": "a0", "type": "quantitative", "stack": null}, "theta2": {"field": "a1"}, "color": {"field": "s", "type": "nominal", "legend": null}}},
        {"data": {"values": [{}]}, "mark": {"type": "arc", "innerRadius": 55, "outerRadius": 66, "color": "#999"}, "encoding": {"x": {"datum": -48.2}, "y": {"datum": -74.4}, "theta": {"datum": 59.4, "type": "quantitative", "stack": null}, "theta2": {"datum": 60.6}}},
        {"data": {"values": [{}]}, "mark": {"type": "arc", "innerRadius": 55, "outerRadius": 66, "color": "#999"}, "encoding": {"x": {"datum": -48.2}, "y": {"datum": -74.4}, "theta": {"datum": 39.4, "type": "quantitative", "stack": null}, "theta2": {"datum": 40.6}}},
        {"data": {"values": [{}]}, "mark": {"type": "arc", "innerRadius": 55, "outerRadius": 66, "color": "#999"}, "encoding": {"x": {"datum": -48.2}, "y": {"datum": -74.4}, "theta": {"datum": 19.4, "type": "quantitative", "stack": null}, "theta2": {"datum": 20.6}}},
        {"data": {"values": [{}]}, "mark": {"type": "arc", "innerRadius": 55, "outerRadius": 62, "color": "#999"}, "encoding": {"x": {"datum": -48.2}, "y": {"datum": -74.4}, "theta": {"datum": -0.6, "type": "quantitative", "stack": null}, "theta2": {"datum": 0.6}}},
        {"data": {"values": [{}]}, "mark": {"type": "arc", "innerRadius": 55, "outerRadius": 66, "color": "#999"}, "encoding": {"x": {"datum": -48.2}, "y": {"datum": -74.4}, "theta": {"datum": -20.6, "type": "quantitative", "stack": null}, "theta2": {"datum": -19.4}}},
        {"data": {"values": [{}]}, "mark": {"type": "arc", "innerRadius": 55, "outerRadius": 66, "color": "#999"}, "encoding": {"x": {"datum": -48.2}, "y": {"datum": -74.4}, "theta": {"datum": -40.6, "type": "quantitative", "stack": null}, "theta2": {"datum": -39.4}}},
        {"data": {"values": [{}]}, "mark": {"type": "arc", "innerRadius": 55, "outerRadius": 66, "color": "#999"}, "encoding": {"x": {"datum": -48.2}, "y": {"datum": -74.4}, "theta": {"datum": -60.6, "type": "quantitative", "stack": null}, "theta2": {"datum": -59.4}}},
        {"data": {"values": [{}]}, "mark": {"type": "rule", "color": "#999", "strokeWidth": 1.3}, "encoding": {"x": {"datum": -48.2}, "y": {"datum": -35.4}, "y2": {"datum": -113.4}}},
        {"data": {"name": "angles"}, "mark": {"type": "text", "radius": 76, "fontSize": 13, "baseline": "middle", "align": "center"},
         "encoding": {"x": {"datum": -48.2}, "y": {"datum": -74.4}, "theta": {"field": "a", "type": "quantitative", "stack": null}, "text": {"field": "lab"}}},
        {"data": {"values": [{}]}, "mark": {"type": "text", "text": "Memory-guided saccades", "fontSize": 22, "fontWeight": "bold", "angle": 90, "align": "center", "baseline": "middle", "color": "#000", "xOffset": 27, "yOffset": 34.5}, "encoding": {"x": {"datum": 200}, "y": {"datum": -135}}},
        {"data": {"values": [{}]}, "mark": {"type": "text", "text": "D", "fontSize": 16, "fontWeight": "bold", "align": "left", "baseline": "alphabetic", "xOffset": -54.3, "yOffset": -26.7}, "encoding": {"x": {"datum": -200}, "y": {"datum": 20}}}
      ]
    },
    {
      "width": 268, "height": 268,
      "layer": [
        {"data": {"name": "e"}, "mark": {"type": "bar", "stroke": "#333", "strokeWidth": 0.8},
         "encoding": {
           "x": {"field": "cat", "type": "nominal", "scale": {"domain": ["<2", "2-5", "5-10", ">10"], "paddingInner": 0.478, "paddingOuter": 0.239},
                 "axis": {"title": "Eccentricity (deg)", "labels": false, "ticks": false, "domain": false, "titlePadding": -3}},
           "xOffset": {"field": "f", "type": "nominal", "scale": {"domain": ["lower", "upper"], "paddingInner": 0.158}},
           "y": {"field": "m", "type": "quantitative", "scale": {"domain": [-97.6, 3.5]},
                 "axis": {"title": ["Baseline-shifted local", "field potential (µV)"], "values": [0], "ticks": false, "domain": false, "labelPadding": 3, "titlePadding": 10}},
           "color": {"field": "f", "type": "nominal", "scale": {"domain": ["lower", "upper"], "range": ["#FF1F5B", "#2E96FF"]}, "legend": null}}},
        {"data": {"name": "e"}, "mark": {"type": "rule", "color": "#222", "strokeWidth": 1.2},
         "encoding": {"x": {"field": "cat", "type": "nominal"}, "xOffset": {"field": "f", "type": "nominal"}, "y": {"field": "lo", "type": "quantitative"}, "y2": {"field": "hi"}}},
        {"data": {"name": "e"}, "mark": {"type": "tick", "orient": "horizontal", "size": 6, "thickness": 1.2, "color": "#222"},
         "encoding": {"x": {"field": "cat", "type": "nominal"}, "xOffset": {"field": "f", "type": "nominal"}, "y": {"field": "lo", "type": "quantitative"}}},
        {"data": {"name": "e"}, "mark": {"type": "tick", "orient": "horizontal", "size": 6, "thickness": 1.2, "color": "#222"},
         "encoding": {"x": {"field": "cat", "type": "nominal"}, "xOffset": {"field": "f", "type": "nominal"}, "y": {"field": "hi", "type": "quantitative"}}},
        {"data": {"name": "e"}, "mark": {"type": "point", "filled": false, "size": 22, "color": "#444", "strokeWidth": 1, "opacity": 1},
         "encoding": {"x": {"field": "cat", "type": "nominal"}, "xOffset": {"field": "f", "type": "nominal"}, "y": {"field": "m", "type": "quantitative"}}},
        {"data": {"name": "e"}, "transform": [{"filter": "datum.f === 'lower'"}], "mark": {"type": "rule", "color": "#555", "strokeWidth": 1},
         "encoding": {"x": {"field": "cat", "type": "nominal"}, "y": {"datum": 0}, "y2": {"datum": -3}}},
        {"data": {"name": "e"}, "transform": [{"filter": "datum.f === 'lower'"}], "mark": {"type": "text", "fontSize": 15, "baseline": "middle", "yOffset": -10},
         "encoding": {"x": {"field": "cat", "type": "nominal"}, "y": {"datum": 0}, "text": {"field": "cat"}}},
        {"data": {"values": [{}]}, "mark": {"type": "rule", "color": "#222", "strokeWidth": 1.2}, "encoding": {"y": {"datum": 0}}},
        {"data": {"values": [{}]}, "mark": {"type": "rule", "color": "#222", "strokeWidth": 1.2}, "encoding": {"x": {"datum": "<2", "type": "nominal", "bandPosition": 1.523}, "y": {"datum": -47.5}, "y2": {"datum": -67.5}}},
        {"data": {"values": [{}]}, "mark": {"type": "text", "text": "20 µV", "fontSize": 15, "angle": 270, "align": "center", "baseline": "middle"}, "encoding": {"x": {"datum": "<2", "type": "nominal", "bandPosition": 1.151}, "y": {"datum": -57.5}}},
        {"data": {"values": [{}]}, "mark": {"type": "rule", "color": "#000", "strokeWidth": 1}, "encoding": {"x": {"datum": ">10", "type": "nominal", "bandPosition": 1.171}, "y": {"datum": -1.3}, "y2": {"datum": -9}}},
        {"data": {"values": [{}]}, "mark": {"type": "point", "shape": "triangle-down", "filled": true, "color": "#000", "opacity": 1, "size": 22}, "encoding": {"x": {"datum": ">10", "type": "nominal", "bandPosition": 1.171}, "y": {"datum": -9.5}}},
        {"data": {"values": [{}]}, "mark": {"type": "text", "text": "Negative", "fontSize": 10.5, "angle": 90, "align": "center", "baseline": "middle"}, "encoding": {"x": {"datum": ">10", "type": "nominal", "bandPosition": 1.457}, "y": {"datum": -9.1}}},
        {"data": {"values": [{}]}, "mark": {"type": "text", "text": "E", "fontSize": 16, "fontWeight": "bold", "align": "left", "baseline": "alphabetic", "xOffset": -84, "yOffset": -20}, "encoding": {"x": {"datum": "<2", "type": "nominal", "bandPosition": 0}, "y": {"datum": 3.5}}}
      ]
    },
    {
      "width": 268, "height": 268,
      "layer": [
        {"data": {"name": "f"}, "mark": {"type": "bar", "stroke": "#333", "strokeWidth": 0.8},
         "encoding": {
           "x": {"field": "cat", "type": "nominal", "scale": {"domain": ["0-20", "20-40", "40-60"], "paddingInner": 0.485, "paddingOuter": 0.2425},
                 "axis": {"title": "Direction from horizontal (deg)", "labels": false, "ticks": false, "domain": false, "titlePadding": -3}},
           "xOffset": {"field": "f", "type": "nominal", "scale": {"domain": ["lower", "upper"], "paddingInner": 0.178}},
           "y": {"field": "m", "type": "quantitative", "scale": {"domain": [-105.6, 3.8]},
                 "axis": {"title": ["Baseline-shifted local", "field potential (µV)"], "values": [0], "ticks": false, "domain": false, "labelPadding": 3, "titlePadding": -3}},
           "color": {"field": "f", "type": "nominal", "scale": {"domain": ["lower", "upper"], "range": ["#FF1F5B", "#2E96FF"]}, "legend": null}}},
        {"data": {"name": "f"}, "mark": {"type": "rule", "color": "#222", "strokeWidth": 1.2},
         "encoding": {"x": {"field": "cat", "type": "nominal"}, "xOffset": {"field": "f", "type": "nominal"}, "y": {"field": "lo", "type": "quantitative"}, "y2": {"field": "hi"}}},
        {"data": {"name": "f"}, "mark": {"type": "tick", "orient": "horizontal", "size": 6, "thickness": 1.2, "color": "#222"},
         "encoding": {"x": {"field": "cat", "type": "nominal"}, "xOffset": {"field": "f", "type": "nominal"}, "y": {"field": "lo", "type": "quantitative"}}},
        {"data": {"name": "f"}, "mark": {"type": "tick", "orient": "horizontal", "size": 6, "thickness": 1.2, "color": "#222"},
         "encoding": {"x": {"field": "cat", "type": "nominal"}, "xOffset": {"field": "f", "type": "nominal"}, "y": {"field": "hi", "type": "quantitative"}}},
        {"data": {"name": "f"}, "mark": {"type": "point", "filled": false, "size": 22, "color": "#444", "strokeWidth": 1, "opacity": 1},
         "encoding": {"x": {"field": "cat", "type": "nominal"}, "xOffset": {"field": "f", "type": "nominal"}, "y": {"field": "m", "type": "quantitative"}}},
        {"data": {"name": "f"}, "transform": [{"filter": "datum.f === 'lower'"}], "mark": {"type": "rule", "color": "#555", "strokeWidth": 1},
         "encoding": {"x": {"field": "cat", "type": "nominal"}, "y": {"datum": 0}, "y2": {"datum": -3}}},
        {"data": {"name": "f"}, "transform": [{"filter": "datum.f === 'lower'"}], "mark": {"type": "text", "fontSize": 15, "baseline": "middle", "yOffset": -10},
         "encoding": {"x": {"field": "cat", "type": "nominal"}, "y": {"datum": 0}, "text": {"field": "cat"}}},
        {"data": {"values": [{}]}, "mark": {"type": "rule", "color": "#222", "strokeWidth": 1.2}, "encoding": {"y": {"datum": 0}}},
        {"data": {"values": [{}]}, "mark": {"type": "rule", "color": "#222", "strokeWidth": 1.2}, "encoding": {"x": {"datum": "0-20", "type": "nominal", "bandPosition": 1.789}, "y": {"datum": -61.2}, "y2": {"datum": -81.2}}},
        {"data": {"values": [{}]}, "mark": {"type": "text", "text": "20 µV", "fontSize": 15, "angle": 270, "align": "center", "baseline": "middle"}, "encoding": {"x": {"datum": "0-20", "type": "nominal", "bandPosition": 1.5}, "y": {"datum": -71}}},
        {"data": {"values": [{}]}, "mark": {"type": "rule", "color": "#000", "strokeWidth": 1}, "encoding": {"x": {"datum": "40-60", "type": "nominal", "bandPosition": 1.128}, "y": {"datum": -1.3}, "y2": {"datum": -9.5}}},
        {"data": {"values": [{}]}, "mark": {"type": "point", "shape": "triangle-down", "filled": true, "color": "#000", "opacity": 1, "size": 22}, "encoding": {"x": {"datum": "40-60", "type": "nominal", "bandPosition": 1.128}, "y": {"datum": -10.2}}},
        {"data": {"values": [{}]}, "mark": {"type": "text", "text": "Negative", "fontSize": 10.5, "angle": 90, "align": "center", "baseline": "middle"}, "encoding": {"x": {"datum": "40-60", "type": "nominal", "bandPosition": 1.383}, "y": {"datum": -9.8}}},
        {"data": {"values": [{}]}, "mark": {"type": "text", "text": "Upper visual field", "fontSize": 15, "align": "right", "baseline": "middle", "color": "#2E96FF"}, "encoding": {"x": {"datum": "40-60", "type": "nominal", "bandPosition": 0.876}, "y": {"datum": -89.5}}},
        {"data": {"values": [{}]}, "mark": {"type": "text", "text": "Lower visual field", "fontSize": 15, "align": "right", "baseline": "middle", "color": "#FF1F5B"}, "encoding": {"x": {"datum": "40-60", "type": "nominal", "bandPosition": 0.876}, "y": {"datum": -95.9}}},
        {"data": {"values": [{}]}, "mark": {"type": "text", "text": "F", "fontSize": 16, "fontWeight": "bold", "align": "left", "baseline": "alphabetic", "xOffset": -76, "yOffset": -20}, "encoding": {"x": {"datum": "0-20", "type": "nominal", "bandPosition": 0}, "y": {"datum": 3.8}}}
      ]
    }
  ]
}
